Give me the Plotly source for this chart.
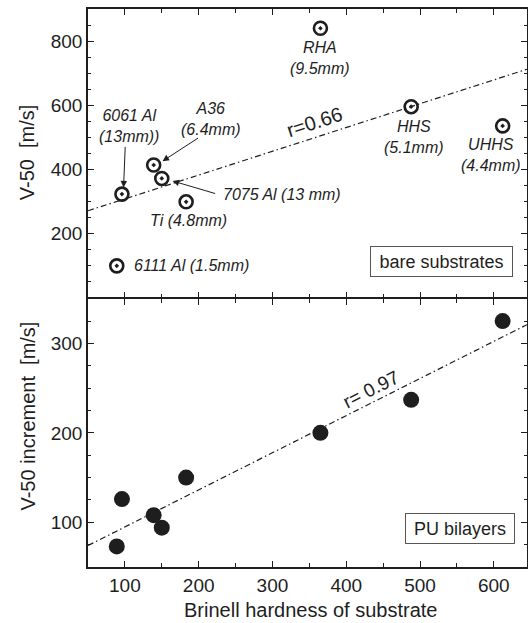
import plotly.graph_objects as go

# ---- data ----
materials = ["RHA", "HHS", "UHHS", "6061 Al", "A36", "7075 Al", "Ti", "6111 Al"]
label_texts = ["RHA<br>(9.5mm)", "HHS<br>(5.1mm)", "UHHS<br>(4.4mm)",
               "6061 Al<br>(13mm))", "A36<br>(6.4mm)", "7075 Al (13 mm)",
               "Ti (4.8mm)", "6111 Al (1.5mm)"]
hardness = [365, 488, 612, 96, 139, 150, 183, 89]
v50_bare = [840, 595, 535, 322, 413, 371, 298, 98]
v50_increment = [200, 237, 325, 126, 108, 94, 150, 73]

fit_x = [50, 645]
fit_bare = [270, 712]
fit_increment = [74, 321]

x_ticks = [100, 200, 300, 400, 500, 600]
top_y_ticks = [200, 400, 600, 800]
bottom_y_ticks = [100, 200, 300]

FONT = "Liberation Sans, Arial, Helvetica, sans-serif"
INK = "#1e1e1e"
PLOT_H = 558
SPLIT_TOP = (269 + 0.75) / PLOT_H
SPLIT_BOT = (269 - 0.75) / PLOT_H

fig = go.Figure()

# fit lines
fig.add_trace(go.Scatter(x=fit_x, y=fit_bare, mode="lines", xaxis="x", yaxis="y",
                         line=dict(color=INK, width=1.2, dash="6px,3px,1.5px,3px"),
                         showlegend=False, hoverinfo="skip"))
fig.add_trace(go.Scatter(x=fit_x, y=fit_increment, mode="lines", xaxis="x2", yaxis="y2",
                         line=dict(color=INK, width=1.2, dash="6px,3px,1.5px,3px"),
                         showlegend=False, hoverinfo="skip"))

# markers
fig.add_trace(go.Scatter(x=hardness, y=v50_bare, mode="markers", xaxis="x", yaxis="y",
                         marker=dict(symbol="circle-open-dot", size=13, color=INK,
                                     line=dict(width=2.6, color=INK)),
                         text=materials, showlegend=False))
fig.add_trace(go.Scatter(x=hardness, y=v50_increment, mode="markers", xaxis="x2", yaxis="y2",
                         marker=dict(symbol="circle", size=16, color=INK, line=dict(width=0)),
                         text=materials, showlegend=False))

annotations = []

# point labels (pixel offsets relative to each marker)
label_layout = {
    "RHA": dict(xshift=0, yshift=-30, xanchor="center"),
    "HHS": dict(xshift=3, yshift=-30, xanchor="center"),
    "UHHS": dict(xshift=-12, yshift=-29, xanchor="center"),
    "6061 Al": dict(xshift=7, yshift=68, xanchor="center"),
    "A36": dict(xshift=57, yshift=46, xanchor="center"),
    "7075 Al": dict(xshift=59, yshift=-16, xanchor="left"),
    "Ti": dict(xshift=2, yshift=-19, xanchor="center"),
    "6111 Al": dict(xshift=15, yshift=0, xanchor="left"),
}
for m, t, hx, vy in zip(materials, label_texts, hardness, v50_bare):
    lay = label_layout[m]
    annotations.append(dict(x=hx, y=vy, xref="x", yref="y", text=t, showarrow=False,
                            xshift=lay["xshift"], yshift=lay["yshift"],
                            xanchor=lay["xanchor"], yanchor="middle", align="center",
                            font=dict(family=FONT, size=16, color=INK, style="italic")))

# arrows
arrows = [
    dict(x=98.2, y=343, ax=1.7, ay=-42),
    dict(x=151, y=425, ax=37, ay=-24),
    dict(x=164.7, y=363, ax=44, ay=13),
]
for a in arrows:
    annotations.append(dict(x=a["x"], y=a["y"], xref="x", yref="y", text="",
                            showarrow=True, ax=a["ax"], ay=a["ay"],
                            arrowhead=2, arrowsize=1.3, arrowwidth=1, arrowcolor=INK))

# correlation labels
annotations.append(dict(x=357, y=546, xref="x", yref="y", text="r=0.66", showarrow=False,
                        textangle=-18, font=dict(family=FONT, size=20, color=INK)))
annotations.append(dict(x=433, y=249, xref="x2", yref="y2", text="r= 0.97", showarrow=False,
                        textangle=-27, font=dict(family=FONT, size=19, color=INK)))

# boxes
annotations.append(dict(x=0.968, y=0.069, xref="x domain", yref="y domain",
                        text="bare substrates", showarrow=False, xanchor="right", yanchor="bottom",
                        width=135, height=23, borderpad=3, bordercolor="#555", borderwidth=1,
                        bgcolor="white", font=dict(family=FONT, size=18, color=INK)))
annotations.append(dict(x=0.973, y=0.0855, xref="x2 domain", yref="y2 domain",
                        text="PU bilayers", showarrow=False, xanchor="right", yanchor="bottom",
                        width=102, height=23, borderpad=3, bordercolor="#555", borderwidth=1,
                        bgcolor="white", font=dict(family=FONT, size=18, color=INK)))

# axis titles
annotations.append(dict(x=-0.1396, y=0.7428, xref="paper", yref="paper", text="V-50  [m/s]",
                        showarrow=False, textangle=-90, xanchor="center", yanchor="middle",
                        font=dict(family=FONT, size=20, color=INK)))
annotations.append(dict(x=-0.1389, y=0.2697, xref="paper", yref="paper",
                        text="V-50 increment  [m/s]",
                        showarrow=False, textangle=-90, xanchor="center", yanchor="middle",
                        font=dict(family=FONT, size=20, color=INK)))
annotations.append(dict(x=0.5057, y=-0.0771, xref="paper", yref="paper",
                        text="Brinell hardness of substrate",
                        showarrow=False, xanchor="center", yanchor="middle",
                        font=dict(family=FONT, size=20, color=INK)))

axis_common = dict(showline=True, linecolor=INK, linewidth=1.5, mirror="ticks",
                   ticks="inside", ticklen=6, tickwidth=1.2, tickcolor=INK,
                   showgrid=False, zeroline=False, automargin=False,
                   tickfont=dict(family=FONT, size=19, color=INK))

fig.update_layout(
    width=528, height=623,
    margin=dict(l=88, r=1, t=9, b=56),
    paper_bgcolor="white", plot_bgcolor="white",
    showlegend=False,
    xaxis=dict(**axis_common, range=[50, 645], anchor="y", domain=[0, 1],
               tickvals=x_ticks, showticklabels=False,
               minor=dict(dtick=50, tick0=0, ticks="inside", ticklen=4, tickwidth=1.2, tickcolor=INK)),
    yaxis=dict(**axis_common, range=[0, 900], anchor="x", domain=[SPLIT_TOP, 1],
               tickvals=top_y_ticks,
               minor=dict(dtick=50, tick0=0, ticks="inside", ticklen=3.5, tickwidth=1.2, tickcolor=INK)),
    xaxis2=dict(**axis_common, range=[50, 645], anchor="y2", domain=[0, 1],
                tickvals=x_ticks,
                minor=dict(dtick=50, tick0=0, ticks="inside", ticklen=4, tickwidth=1.2, tickcolor=INK)),
    yaxis2=dict(**axis_common, range=[50, 350], anchor="x2", domain=[0, SPLIT_BOT],
                tickvals=bottom_y_ticks,
                minor=dict(dtick=25, tick0=0, ticks="inside", ticklen=3.5, tickwidth=1.2, tickcolor=INK)),
    annotations=annotations,
)

fig.write_html("out.html", config={"displayModeBar": False},
               post_script="document.body.style.margin='0';document.body.style.overflow='hidden';")
